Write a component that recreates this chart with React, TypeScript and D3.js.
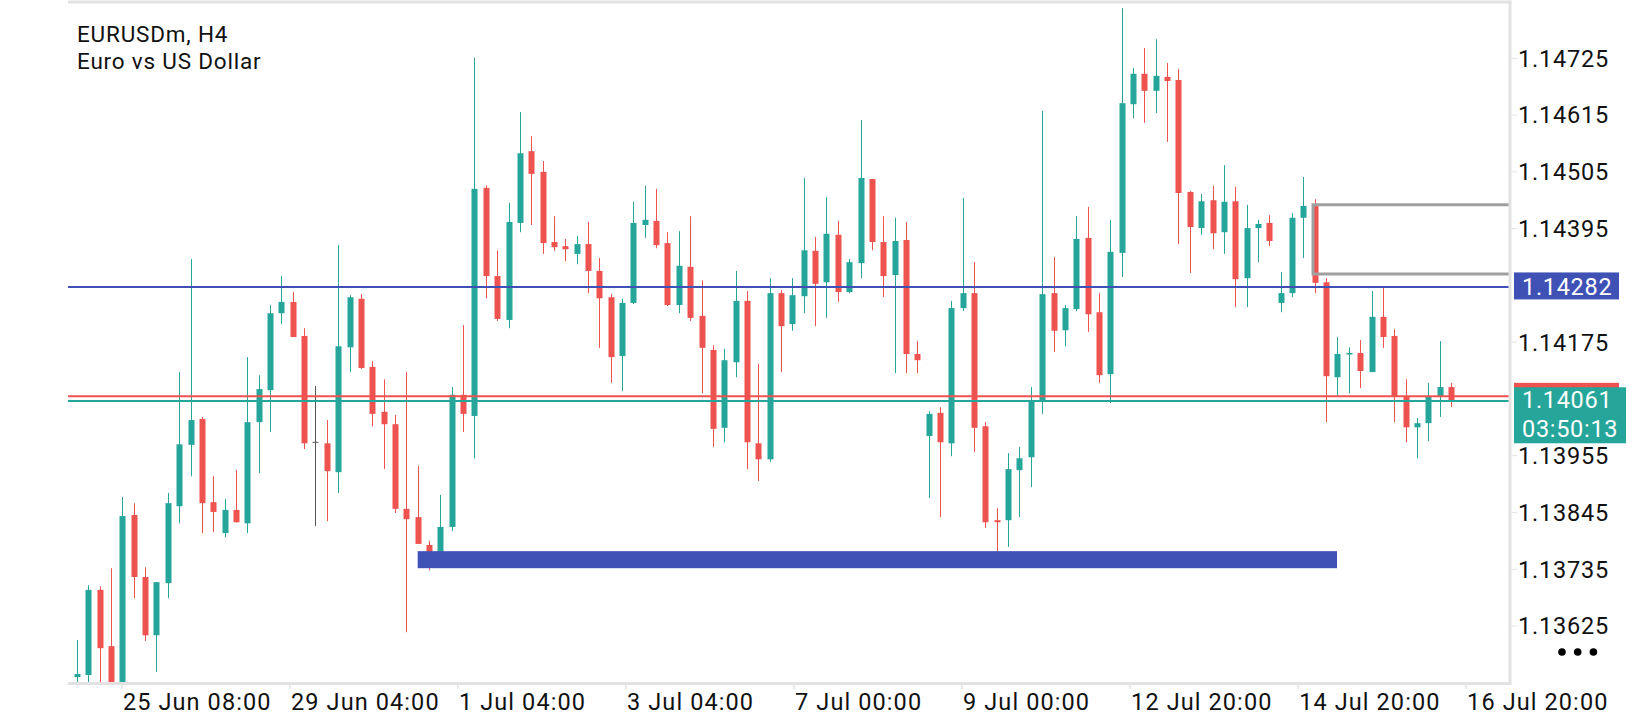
import React from 'react';
import * as d3 from 'd3';

// ---- Data (EURUSDm, H4) ----
const openP = [
  1.13526, 1.13530, 1.13695, 1.13586, 1.13495, 1.13840, 1.13720, 1.13607, 1.13708, 1.13857,
  1.13976, 1.14026, 1.13865, 1.13805, 1.13850, 1.13824, 1.14020, 1.14082, 1.14231, 1.14253,
  1.14187, 1.13981, 1.13979, 1.13923, 1.14165, 1.14259, 1.14127, 1.14040, 1.14016, 1.13852,
  1.13836, 1.13782, 1.13766, 1.13817, 1.14073, 1.14032, 1.14474, 1.14303, 1.14218, 1.14406,
  1.14545, 1.14505, 1.14369, 1.14361, 1.14346, 1.14365, 1.14313, 1.14262, 1.14148, 1.14251,
  1.14402, 1.14410, 1.14367, 1.14247, 1.14321, 1.14226, 1.14160, 1.14009, 1.14136, 1.14255,
  1.13979, 1.13948, 1.14270, 1.14210, 1.14264, 1.14352, 1.14291, 1.14383, 1.14272, 1.14328,
  1.14491, 1.14369, 1.14305, 1.14373, 1.14152, 1.13993, 1.14038, 1.13979, 1.14241, 1.14270,
  1.14012, 1.13830, 1.13830, 1.13927, 1.13952, 1.14061, 1.14270, 1.14198, 1.14239, 1.14377,
  1.14233, 1.14113, 1.14348, 1.14636, 1.14695, 1.14662, 1.14689, 1.14683, 1.14466, 1.14396,
  1.14450, 1.14388, 1.14448, 1.14299, 1.14396, 1.14406, 1.14251, 1.14270, 1.14416, 1.14441,
  1.14291, 1.14107, 1.14152, 1.14154, 1.14117, 1.14224, 1.14187, 1.14069, 1.14010, 1.14018,
  1.14069, 1.14088,
];
const highP = [
  1.13598, 1.13704, 1.13702, 1.13737, 1.13875, 1.13863, 1.13739, 1.13710, 1.13883, 1.14117,
  1.14336, 1.14030, 1.13915, 1.13871, 1.13927, 1.14146, 1.14111, 1.14247, 1.14303, 1.14272,
  1.14202, 1.14090, 1.14024, 1.14363, 1.14266, 1.14268, 1.14138, 1.14103, 1.14034, 1.14117,
  1.13935, 1.13790, 1.13879, 1.14088, 1.14208, 1.14726, 1.14479, 1.14353, 1.14445, 1.14621,
  1.14574, 1.14526, 1.14419, 1.14375, 1.14381, 1.14408, 1.14338, 1.14268, 1.14259, 1.14447,
  1.14478, 1.14472, 1.14388, 1.14390, 1.14419, 1.14295, 1.14169, 1.14162, 1.14313, 1.14274,
  1.14133, 1.14299, 1.14276, 1.14299, 1.14493, 1.14379, 1.14456, 1.14410, 1.14336, 1.14605,
  1.14491, 1.14419, 1.14416, 1.14408, 1.14177, 1.14041, 1.14049, 1.14255, 1.14454, 1.14330,
  1.14020, 1.13853, 1.13960, 1.13972, 1.14088, 1.14623, 1.14340, 1.14247, 1.14419, 1.14437,
  1.14270, 1.14412, 1.14822, 1.14706, 1.14745, 1.14762, 1.14716, 1.14704, 1.14468, 1.14462,
  1.14478, 1.14518, 1.14476, 1.14441, 1.14412, 1.14421, 1.14311, 1.14425, 1.14495, 1.14452,
  1.14299, 1.14185, 1.14165, 1.14179, 1.14274, 1.14284, 1.14200, 1.14103, 1.14028, 1.14096,
  1.14177, 1.14096,
];
const lowP = [
  1.13505, 1.13500, 1.13490, 1.13480, 1.13485, 1.13679, 1.13596, 1.13536, 1.13679, 1.13824,
  1.13915, 1.13805, 1.13807, 1.13797, 1.13826, 1.13805, 1.13921, 1.14001, 1.14210, 1.14185,
  1.13968, 1.13819, 1.13828, 1.13883, 1.14117, 1.14123, 1.14012, 1.13929, 1.13844, 1.13613,
  1.13784, 1.13733, 1.13757, 1.13809, 1.14001, 1.13950, 1.14260, 1.14216, 1.14202, 1.14388,
  1.14402, 1.14346, 1.14352, 1.14332, 1.14326, 1.14270, 1.14164, 1.14096, 1.14080, 1.14249,
  1.14377, 1.14357, 1.14245, 1.14231, 1.14216, 1.14076, 1.13972, 1.13981, 1.14107, 1.13929,
  1.13906, 1.13943, 1.14117, 1.14197, 1.14231, 1.14206, 1.14222, 1.14253, 1.14270, 1.14299,
  1.14353, 1.14262, 1.14115, 1.14115, 1.14115, 1.13873, 1.13836, 1.13954, 1.14235, 1.13962,
  1.13815, 1.13766, 1.13778, 1.13836, 1.13894, 1.14036, 1.14156, 1.14167, 1.14235, 1.14195,
  1.14096, 1.14057, 1.14301, 1.14609, 1.14600, 1.14619, 1.14563, 1.14365, 1.14309, 1.14383,
  1.14355, 1.14346, 1.14243, 1.14243, 1.14330, 1.14361, 1.14233, 1.14262, 1.14338, 1.14270,
  1.14020, 1.14071, 1.14076, 1.14086, 1.14117, 1.14164, 1.14020, 1.13981, 1.13950, 1.13983,
  1.14030, 1.14049,
];
const closeP = [
  1.13532, 1.13695, 1.13582, 1.13495, 1.13838, 1.13720, 1.13607, 1.13710, 1.13863, 1.13977,
  1.14024, 1.13863, 1.13846, 1.13850, 1.13826, 1.14020, 1.14084, 1.14231, 1.14253, 1.14185,
  1.13979, 1.13981, 1.13925, 1.14167, 1.14262, 1.14125, 1.14036, 1.14016, 1.13852, 1.13832,
  1.13784, 1.13768, 1.13817, 1.14073, 1.14036, 1.14472, 1.14303, 1.14220, 1.14408, 1.14541,
  1.14501, 1.14367, 1.14359, 1.14355, 1.14365, 1.14313, 1.14260, 1.14146, 1.14251, 1.14406,
  1.14412, 1.14363, 1.14247, 1.14323, 1.14222, 1.14164, 1.14007, 1.14140, 1.14255, 1.13981,
  1.13948, 1.14270, 1.14206, 1.14266, 1.14353, 1.14288, 1.14385, 1.14272, 1.14330, 1.14493,
  1.14369, 1.14303, 1.14371, 1.14152, 1.14140, 1.14036, 1.13981, 1.14241, 1.14270, 1.14009,
  1.13826, 1.13826, 1.13929, 1.13950, 1.14061, 1.14268, 1.14197, 1.14241, 1.14375, 1.14229,
  1.14111, 1.14350, 1.14638, 1.14695, 1.14662, 1.14691, 1.14681, 1.14464, 1.14398, 1.14448,
  1.14386, 1.14447, 1.14297, 1.14396, 1.14404, 1.14371, 1.14270, 1.14416, 1.14439, 1.14290,
  1.14109, 1.14152, 1.14154, 1.14119, 1.14224, 1.14185, 1.14069, 1.14010, 1.14018, 1.14069,
  1.14088, 1.14061,
];

const yTickValues = [1.13625, 1.13735, 1.13845, 1.13955, 1.14175, 1.14395, 1.14505, 1.14615, 1.14725];
const xTickLabels = ['25 Jun 08:00', '29 Jun 04:00', '1 Jul 04:00', '3 Jul 04:00', '7 Jul 00:00', '9 Jul 00:00', '12 Jul 20:00', '14 Jul 20:00', '16 Jul 20:00'];
const xTickBars = [3.96, 18.76, 33.55, 48.35, 63.15, 77.94, 92.74, 107.54, 122.33];

const symbolTitle = 'EURUSDm, H4';
const symbolDesc = 'Euro vs US Dollar';
const levelPrice = 1.14282;
const askPrice = 1.1407;
const bidPrice = 1.14061;
const barTimer = '03:50:13';
const zoneBars = [30, 110.96];
const zonePrices = [1.1377, 1.13737];
const boxBar = 108.85;
const boxPrices = [1.14441, 1.14307];

// ---- Layout ----
const W = 1640;
const H = 720;
const plotLeft = 68;
const plotRight = 1510;
const plotTop = 3;
const plotBottom = 683;

const GREEN = '#26a69a';
const RED = '#ef5350';
const BLUE = '#3f51b5';
const FRAME = '#e2e2e2';
const FONT = 'Roboto, sans-serif';

export default function App() {
  const x = d3.scaleLinear().domain([0, openP.length - 1]).range([77, 1451]);
  const y = d3.scaleLinear().domain([1.13625, 1.14725]).range([626, 58.3]);
  const fmt = d3.format('.5f');
  const bodyW = 6;

  const candles = openP.map((o, i) => ({ o, h: highP[i], l: lowP[i], c: closeP[i], i }));

  const yBid = y(bidPrice);
  const yAsk = y(askPrice);
  const yLevel = y(levelPrice);

  return (
    <svg
      width={W}
      height={H}
      viewBox={`0 0 ${W} ${H}`}
      style={{ position: 'absolute', left: 0, top: 0, background: '#fff' }}
      fontFamily={FONT}
    >
      <defs>
        <clipPath id="plotClip">
          <rect x={plotLeft} y={plotTop} width={plotRight - plotLeft} height={plotBottom - plotTop} />
        </clipPath>
      </defs>
      <rect x={0} y={0} width={W} height={H} fill="#fff" />

      {/* title */}
      <text x={77} y={41.5} fontSize={22.5} letterSpacing={0.8} fill="#111">{symbolTitle}</text>
      <text x={77} y={69} fontSize={22.5} letterSpacing={0.8} fill="#111">{symbolDesc}</text>

      <g clipPath="url(#plotClip)">
        {candles.map((d) => {
          const col = d.c > d.o ? GREEN : d.c < d.o ? RED : '#555';
          const cx = Math.round(x(d.i)) + 0.5;
          const top = y(Math.max(d.o, d.c));
          const bot = y(Math.min(d.o, d.c));
          return (
            <g key={d.i}>
              <line x1={cx} x2={cx} y1={y(d.h)} y2={y(d.l)} stroke={col} strokeWidth={1} />
              {d.c === d.o ? (
                <line x1={cx - bodyW / 2} x2={cx + bodyW / 2} y1={top} y2={top} stroke={col} strokeWidth={1} />
              ) : (
                <rect x={cx - bodyW / 2} y={top} width={bodyW} height={Math.max(1.5, bot - top)} fill={col} />
              )}
            </g>
          );
        })}

        {/* support zone */}
        <rect
          x={x(zoneBars[0])}
          y={y(zonePrices[0])}
          width={x(zoneBars[1]) - x(zoneBars[0])}
          height={y(zonePrices[1]) - y(zonePrices[0])}
          fill={BLUE}
        />

        {/* gray box */}
        <path
          d={`M${plotRight + 5},${y(boxPrices[0])} H${x(boxBar)} V${y(boxPrices[1])} H${plotRight + 5}`}
          fill="none"
          stroke="#a0a0a0"
          strokeWidth={3}
        />

        {/* level line */}
        <line x1={plotLeft} x2={plotRight} y1={yLevel} y2={yLevel} stroke={BLUE} strokeWidth={2} />
        {/* ask / bid lines */}
        <line x1={plotLeft} x2={plotRight} y1={yAsk} y2={yAsk} stroke={RED} strokeWidth={2} />
        <line x1={plotLeft} x2={plotRight} y1={yBid} y2={yBid} stroke={GREEN} strokeWidth={2} />
      </g>

      {/* frame */}
      <line x1={plotLeft} x2={plotRight + 1.5} y1={plotTop - 1} y2={plotTop - 1} stroke={FRAME} strokeWidth={3} />
      <line x1={plotLeft} x2={plotRight + 1.5} y1={plotBottom + 0.5} y2={plotBottom + 0.5} stroke={FRAME} strokeWidth={3} />
      <line x1={plotRight} x2={plotRight} y1={plotTop - 2.5} y2={plotBottom + 2} stroke={FRAME} strokeWidth={3} />

      {/* y axis */}
      {yTickValues.map((v) => (
        <g key={v}>
          <line x1={plotRight + 1.5} x2={plotRight + 7} y1={y(v)} y2={y(v)} stroke={FRAME} strokeWidth={1} />
          <text x={1518} y={y(v) + 8.4} fontSize={23.5} letterSpacing={0.8} fill="#111">{fmt(v)}</text>
        </g>
      ))}

      {/* x axis */}
      {xTickLabels.map((lab, k) => (
        <g key={lab}>
          <line x1={x(xTickBars[k])} x2={x(xTickBars[k])} y1={plotBottom + 2} y2={plotBottom + 6} stroke={FRAME} strokeWidth={1.5} />
          <text x={x(xTickBars[k]) + 1} y={710} fontSize={23.5} letterSpacing={1.1} fill="#111">{lab}</text>
        </g>
      ))}

      {/* level label */}
      <rect x={1514} y={yLevel - 14.5} width={105} height={27} fill={BLUE} />
      <text x={1522} y={yLevel + 8} fontSize={23.5} letterSpacing={0.7} fill="#fff">{fmt(levelPrice)}</text>

      {/* ask label (behind) */}
      <rect x={1514} y={yAsk - 13.5} width={105} height={27} fill={RED} />
      {/* bid label */}
      <rect x={1514} y={yBid - 13.7} width={112} height={56} fill={GREEN} />
      <text x={1522} y={yBid + 7.5} fontSize={23.5} letterSpacing={0.7} fill="#fff">{fmt(bidPrice)}</text>
      <text x={1522} y={yBid + 36} fontSize={23.5} letterSpacing={0.7} fill="#fff">{barTimer}</text>

      {/* menu dots */}
      {[0, 1, 2].map((k) => (
        <circle key={k} cx={1562 + k * 15.7} cy={652} r={3.8} fill="#000" />
      ))}
    </svg>
  );
}
